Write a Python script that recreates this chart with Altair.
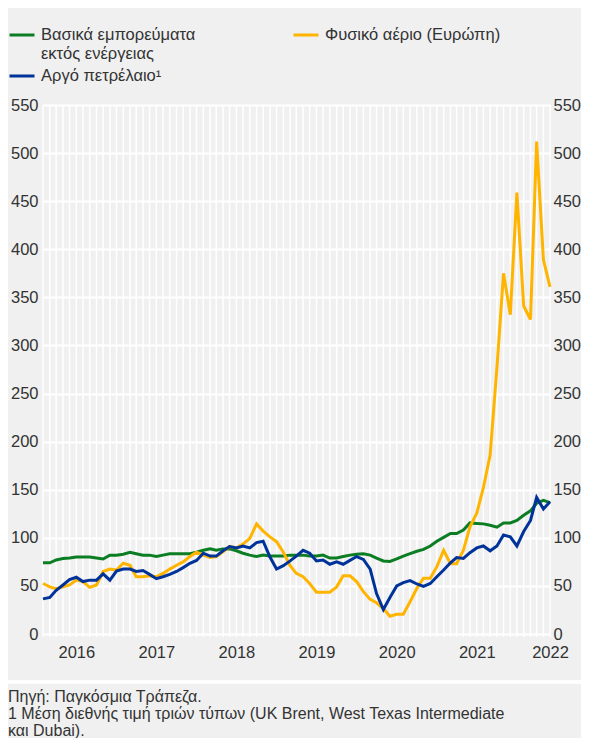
import altair as alt
import pandas as pd

# ---------------- data ----------------
MONTHS = pd.date_range("2016-01-01", "2022-05-01", freq="MS").strftime("%Y-%m-%d").tolist()

NON_ENERGY = [74, 74, 77, 78.5, 79, 80, 80, 80, 79, 78, 82, 82,
              83, 85, 83.5, 82, 82, 80.5, 82, 83.5, 83.5, 83.5, 83.5, 85,
              87, 88.5, 87, 88.5, 88.5, 86.5, 84, 82, 80.5, 82, 81, 81,
              81, 82, 82, 82, 81, 81, 82, 79, 79, 80.5, 82, 83,
              83.5, 82, 79, 76, 75.5, 78, 81, 83.5, 86, 88, 91.5, 96.5,
              100.5, 104.5, 104.5, 108, 115.5, 115, 114.5, 113, 111, 115.5, 115.5, 118,
              123.5, 128, 136, 139, 136.5]

GAS = [52.5, 49, 47, 49, 51, 56, 54.5, 48.5, 51, 65, 67.5, 66.5,
       73.5, 71.5, 59.5, 59.5, 60.5, 59.5, 63, 67.5, 71.5, 75, 80.5, 85,
       82, 79.5, 80.5, 85.5, 91, 89.5, 93.5, 99.5, 114.5, 107, 101, 96,
       85, 71, 63, 59.5, 52.5, 43.5, 43.5, 43.5, 49, 60.5, 60.5, 54.5,
       44, 36, 32.5, 26.5, 18.5, 20.5, 20.5, 33.5, 47.5, 58, 58, 70,
       87, 73, 73, 87, 111.5, 125.5, 152, 186, 277, 375, 332, 459,
       341, 327, 512, 389, 361]

OIL = [36.5, 38, 45.5, 51, 56.5, 59, 54.5, 56, 56, 62.5, 56, 65.5,
       67.5, 67.5, 65, 66, 62, 57.5, 59.5, 62, 65, 69, 73.5, 76.5,
       84, 81, 81, 86.5, 91, 89.5, 91.5, 89.5, 95, 96.5, 80, 67.5,
       71, 76, 81, 87, 84, 76, 77, 72.5, 75, 72.5, 76.5, 80.5,
       77.5, 67.5, 42, 25.5, 38, 50, 53.5, 55.5, 52, 49.5, 52.5, 59.5,
       66.5, 74, 79.5, 78.5, 84.5, 89.5, 91.5, 86.5, 91.5, 103, 101, 91.5,
       106.5, 118, 142, 130, 137.5]

SERIES_NAMES = ["Βασικά εμπορεύματα εκτός ενέργειας",
                "Φυσικό αέριο (Ευρώπη)",
                "Αργό πετρέλαιο¹"]
COLORS = ["#0b7d22", "#ffb400", "#00339a"]
Y_TICKS = list(range(0, 551, 50))
YEAR_LABELS = [(2016, 6), (2017, 6), (2018, 6), (2019, 6), (2020, 6), (2021, 6), (2022, 5)]
FOOTER = ["Πηγή: Παγκόσμια Τράπεζα.",
          "1 Μέση διεθνής τιμή τριών τύπων (UK Brent, West Texas Intermediate",
          "και Dubai)."]

# ---------------- tables ----------------
rows = []
for name, vals in zip(SERIES_NAMES, [NON_ENERGY, GAS, OIL]):
    for d, v in zip(MONTHS, vals):
        rows.append({"date": d, "value": v, "series": name})
df = pd.DataFrame(rows)
grid_df = pd.DataFrame({"date": MONTHS})

# ---------------- style ----------------
W, H = 507, 529
FONT = "Liberation Sans"
TXT = "#333333"
BG = "#f0f0f0"
FS = 16.5

x_scale = alt.Scale(type="utc",
                    domain=[alt.DateTime(year=2016, month=1, date=1, utc=True),
                            alt.DateTime(year=2022, month=5, date=1, utc=True)])
x_axis = alt.Axis(values=[alt.DateTime(year=y, month=m, date=1, utc=True) for y, m in YEAR_LABELS],
                  labelExpr="utcFormat(datum.value, '%Y')",
                  grid=False, ticks=False, domain=False, labelPadding=10,
                  labelFontSize=FS, labelFont=FONT, labelColor=TXT, title=None,
                  labelFlush=False, labelOverlap=False)
X = alt.X("date:T", scale=x_scale, axis=x_axis)
y_scale = alt.Scale(domain=[0, 550], nice=False)

legend_expr = ("datum.label == '" + SERIES_NAMES[0] +
               "' ? ['Βασικά εμπορεύματα', '\u00a0εκτός ενέργειας'] : "
               "(datum.label == '" + SERIES_NAMES[1] + "' ? [datum.label, '\u00a0'] : datum.label)")

vgrid = alt.Chart(grid_df).mark_rule(color="white", strokeWidth=1.5).encode(
    x=X, y=alt.value(0), y2=alt.value(H + 3)
)

lines = alt.Chart(df).mark_line(strokeWidth=3).encode(
    x=X,
    y=alt.Y("value:Q", scale=y_scale,
            axis=alt.Axis(values=Y_TICKS, grid=True, gridColor="white", gridWidth=2,
                          ticks=False, domain=False, labelPadding=5, title=None,
                          labelFontSize=FS, labelFont=FONT, labelColor=TXT)),
    color=alt.Color("series:N",
                    scale=alt.Scale(domain=SERIES_NAMES, range=COLORS),
                    legend=alt.Legend(orient="none", legendX=-35, legendY=-84, columns=2,
                                      direction="horizontal",
                                      title=None, symbolType="stroke", symbolStrokeWidth=3,
                                      symbolSize=625, labelFontSize=FS, labelFont=FONT,
                                      labelColor=TXT, labelOffset=5, columnPadding=91,
                                      rowPadding=-16, labelLimit=400, padding=0,
                                      labelExpr=legend_expr)),
)

right = alt.Chart(df).mark_line(opacity=0).encode(
    x=X,
    y=alt.Y("value:Q", scale=y_scale,
            axis=alt.Axis(orient="right", values=Y_TICKS, grid=False, ticks=False,
                          domain=False, labelPadding=3, title=None,
                          labelFontSize=FS, labelFont=FONT, labelColor=TXT)),
    detail="series:N",
)

separator = alt.Chart(grid_df).mark_rule(color="white", strokeWidth=2.5).encode(
    x=alt.value(-35), x2=alt.value(W + 31), y=alt.value(H + 48)
)

chart = alt.layer(vgrid, lines, right, separator).resolve_axis(y="independent").properties(
    width=W, height=H,
    padding={"left": 35, "top": 97, "right": 31, "bottom": 104},
    autosize=alt.AutoSizeParams(type="none"),
    title=alt.TitleParams(text=FOOTER, orient="bottom", anchor="start", dx=-35, offset=6,
                          fontSize=16, font=FONT, color=TXT, fontWeight="normal",
                          lineHeight=17, baseline="top", frame="group"),
).configure(background=BG).configure_view(stroke=None)

chart.save("out.html", embed_options={"renderer": "svg", "actions": False})
